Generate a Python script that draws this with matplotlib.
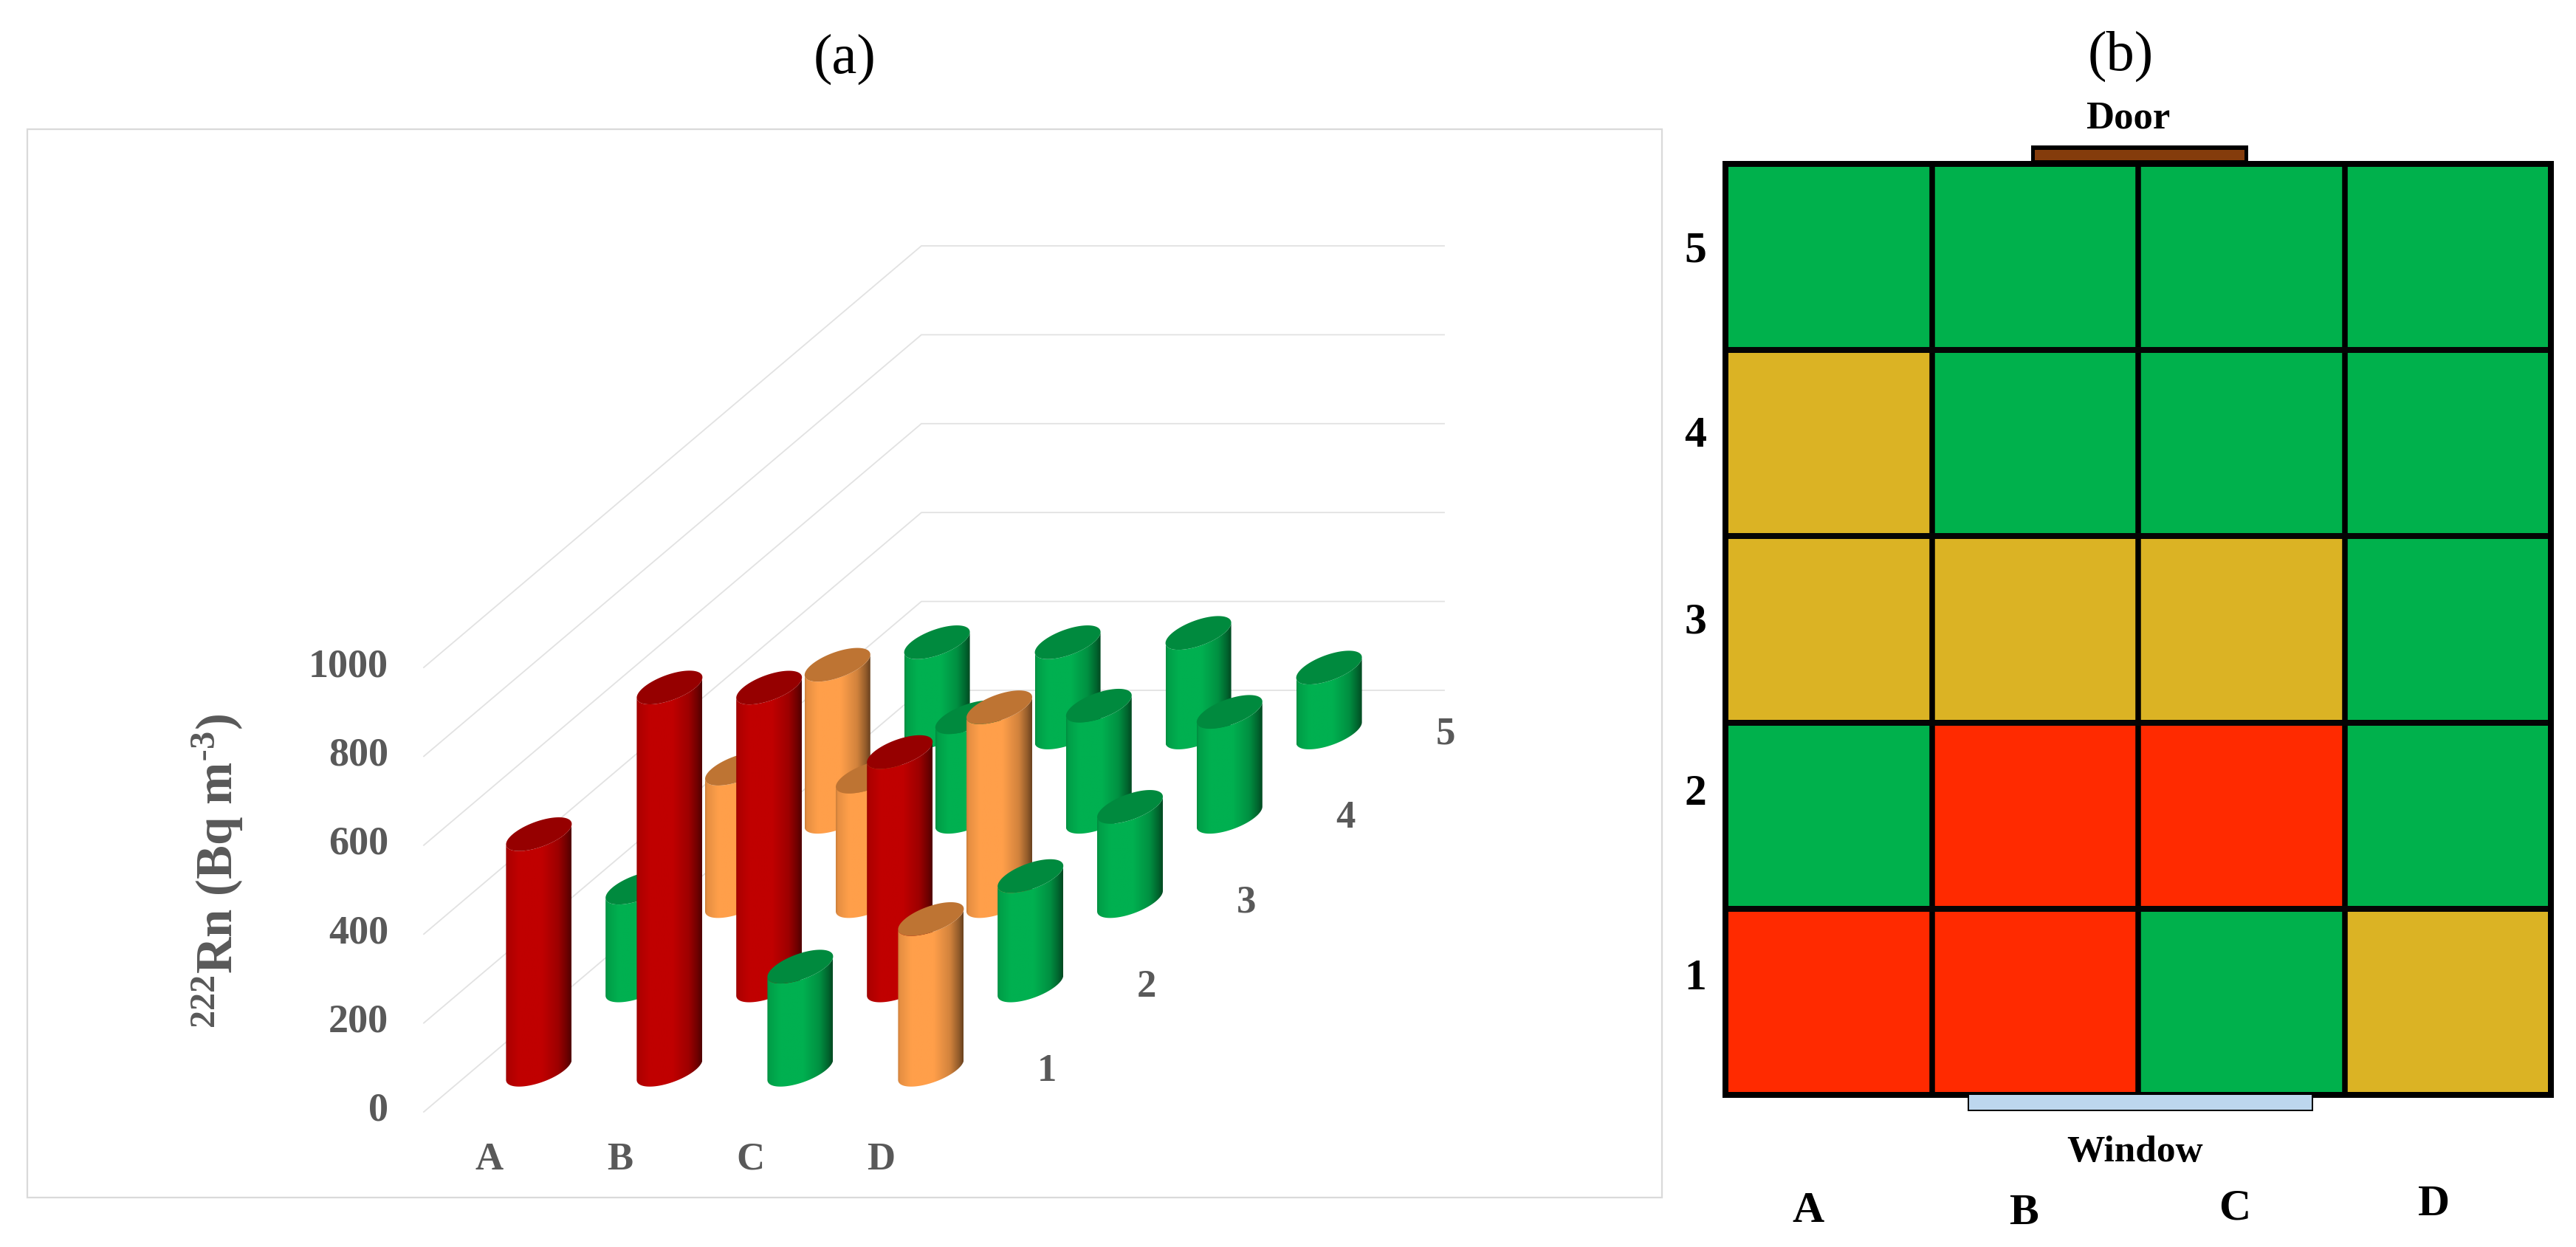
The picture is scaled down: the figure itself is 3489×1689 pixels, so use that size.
import numpy as np
import matplotlib
matplotlib.use("Agg")
import matplotlib.pyplot as plt
from matplotlib.path import Path
from matplotlib.patches import PathPatch, Rectangle
from matplotlib.colors import ListedColormap, to_rgb

plt.rcParams['font.family'] = ['Liberation Serif', 'DejaVu Serif']
plt.rcParams['mathtext.default'] = 'regular'

# ---------- data ----------
columns = ['A', 'B', 'C', 'D']
rows = ['1', '2', '3', '4', '5']
radon_row1 = [530, 860, 232, 339]
radon_row2 = [220, 670, 525, 246]
radon_row3 = [298, 280, 436, 212]
radon_row4 = [342, 224, 250, 236]
radon_row5 = [203, 203, 224, 146]
radon = [radon_row1, radon_row2, radon_row3, radon_row4, radon_row5]
# 0 = low, 1 = middle, 2 = high
level_row1 = [2, 2, 0, 1]
level_row2 = [0, 2, 2, 0]
level_row3 = [1, 1, 1, 0]
level_row4 = [1, 0, 0, 0]
level_row5 = [0, 0, 0, 0]
levels = [level_row1, level_row2, level_row3, level_row4, level_row5]
z_ticks = [0, 200, 400, 600, 800, 1000]

bar_colors = ['#00B050', '#FF9F4A', '#C00000']
bar_tops = ['#008A3E', '#BE7433', '#960000']
map_colors = ['#00B14C', '#DBB324', '#FF2A00']

W, H = 3489, 1689
DPI = 100
fig = plt.figure(figsize=(W / DPI, H / DPI), dpi=DPI, facecolor='white')
ax = fig.add_axes([0, 0, 1, 1], zorder=5)
ax.set_axis_off()

# ---------- oblique projection of panel (a) ----------
ORIGIN = np.array([574.0, 1506.0])
STEP_COL = np.array([177.0, 0.0])
STEP_ROW = np.array([134.8, -114.2])
PX_PER_UNIT = 0.602
RADIUS = 0.2


def project(c, r, z=0.0):
    c, r = np.asarray(c, float), np.asarray(r, float)
    x = ORIGIN[0] + c * STEP_COL[0] + r * STEP_ROW[0]
    y = ORIGIN[1] + c * STEP_COL[1] + r * STEP_ROW[1] - np.asarray(z, float) * PX_PER_UNIT
    return x, y


# frame
ax.add_patch(Rectangle((37, 175), 2214, 1447, fc='none', ec='#DADADA', lw=1.6, zorder=1))

# gridlines
nc, nr = len(columns), len(rows)
for z in z_ticks:
    xs, ys = project([0, 0, nc], [0, nr, nr], z)
    ax.plot(xs, ys, color='#E2E2E2', lw=1.3, zorder=2, solid_joinstyle='miter')
    ax.text(xs[0] - 48, ys[0] - 1, str(z), ha='right', va='center', fontsize=39,
            fontweight='bold', color='#595959', zorder=5)

# cylinders, back row first
T0 = np.arctan2(STEP_ROW[0], STEP_COL[0])
arc = np.linspace(T0 + np.pi, T0 + 2 * np.pi, 60)
full = np.linspace(0, 2 * np.pi, 120)
shade_x = [0.0, 0.03, 0.2, 0.55, 0.8, 0.93, 1.0]
shade_y = [0.80, 0.90, 1.0, 1.0, 0.82, 0.58, 0.42]
u = np.linspace(0, 1, 128)
shade = np.interp(u, shade_x, shade_y)
zo = 10


def ring(i, j, z, t):
    cx, cy = i + 0.5 + RADIUS * np.cos(t), j + 0.5 + RADIUS * np.sin(t)
    return np.column_stack(project(cx, cy, z))


for j in range(nr - 1, -1, -1):
    for i in range(nc):
        val = radon[j][i]
        lev = levels[j][i]
        bottom = ring(i, j, 0, arc)
        top = ring(i, j, val, arc)
        body = Path(np.vstack([bottom, top[::-1], bottom[:1]]), closed=True)
        xmin, xmax = bottom[:, 0].min(), bottom[:, 0].max()
        ymin, ymax = top[:, 1].min() - 30, bottom[:, 1].max() + 5
        img = shade[None, :, None] * np.array(to_rgb(bar_colors[lev]))[None, None, :]
        im = ax.imshow(img, extent=(xmin, xmax, ymax, ymin), aspect='auto',
                       interpolation='bilinear', zorder=zo)
        im.set_clip_path(PathPatch(body, transform=ax.transData))
        cap = ring(i, j, val, full)
        ax.fill(cap[:, 0], cap[:, 1], color=bar_tops[lev], lw=0, zorder=zo + 0.5)
        zo += 1

# category and row labels of (a)
text_a = dict(fontsize=38, fontweight='bold', color='#595959', ha='center', va='center', zorder=100)
for i, name in enumerate(columns):
    x, _ = project(i + 0.5, 0)
    ax.text(x, 1571, name, **text_a)
for j, name in enumerate(rows):
    x, y = project(nc, j + 0.5)
    ax.text(x + 69, y + 2, name, **text_a)

ax.text(295, 1180, r'$^{222}$Rn (Bq m$^{\text{-}3}$)', rotation=90, ha='center', va='center',
        fontsize=49.5, fontweight='bold', color='#595959', zorder=100)

ax.text(1144, 80, '(a)', fontsize=55, ha='center', va='center', color='black')
ax.text(2872, 76, '(b)', fontsize=55, ha='center', va='center', color='black')

ax.set_xlim(0, W)
ax.set_ylim(H, 0)

# ---------- panel (b): floor map ----------
L, R, T, B = 2337, 3455, 222, 1483
axb = fig.add_axes([L / W, 1 - B / H, (R - L) / W, (B - T) / H], zorder=1)
axb.pcolormesh(np.arange(nc + 1), np.arange(nr + 1), np.array(levels),
               cmap=ListedColormap(map_colors), vmin=0, vmax=2)
axb.set_xlim(0, nc)
axb.set_ylim(0, nr)
axb.set_xticks([])
axb.set_yticks([])
for s in axb.spines.values():
    s.set_linewidth(8 * 72 / DPI)
    s.set_color('black')
    s.set_capstyle('projecting')
for k in range(1, nc):
    axb.axvline(k, color='black', lw=7.5 * 72 / DPI)
for k in range(1, nr):
    axb.axhline(k, color='#050505', lw=8 * 72 / DPI)

# door and window
ax.add_patch(Rectangle((2751, 197), 294, 22, fc='black', lw=0, zorder=3))
ax.add_patch(Rectangle((2756, 203), 284, 14, fc='#843C0C', lw=0, zorder=4))
ax.add_patch(Rectangle((2665, 1483), 468, 22, fc='black', lw=0, zorder=3))
ax.add_patch(Rectangle((2667, 1483), 464, 20, fc='#BDD7EE', lw=0, zorder=4))
ax.text(2882, 160, 'Door', fontsize=38, fontweight='bold', ha='center', va='center')
ax.text(2892, 1561, 'Window', fontsize=37, fontweight='bold', ha='center', va='center')

col_label_x = [2449, 2741, 3027, 3297]
col_label_y = [1641, 1644, 1638, 1632]
for name, x, y in zip(columns, col_label_x, col_label_y):
    ax.text(x, y, name, fontsize=43, fontweight='bold', ha='center', va='center')
row_label_y = [1326, 1076, 843, 591, 340]
for name, y in zip(rows, row_label_y):
    ax.text(2296, y, name, fontsize=43, fontweight='bold', ha='center', va='center')

fig.savefig('out.png', dpi=DPI, facecolor='white')
